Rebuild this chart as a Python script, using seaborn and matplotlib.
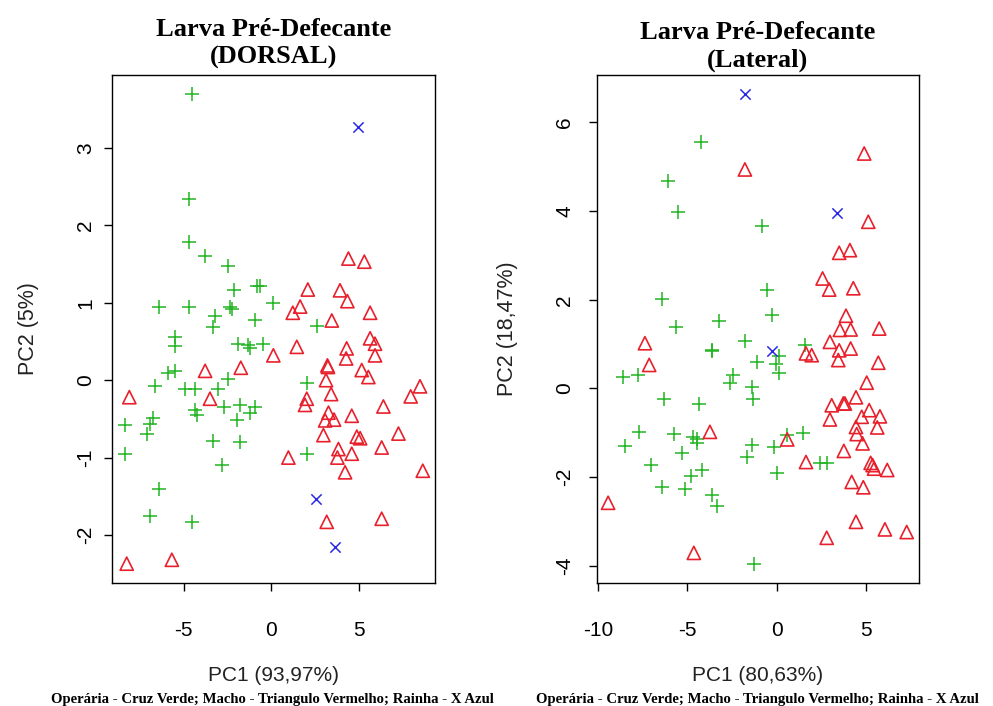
import matplotlib
matplotlib.use("Agg")
import matplotlib.pyplot as plt
import seaborn as sns
import pandas as pd

# ---- PCA scores, dorsal view ----
dorsal_operaria_pc1 = [-4.53, -4.67, -4.67, -3.77, -2.44, -2.10, -0.82, -0.63, 0.10, -6.42,
                       -4.67, -3.20, -2.34, -2.25, -0.91, -3.30, 2.63, -5.49, -5.49, -1.87,
                       -1.30, -1.20, -0.44, -5.87, -5.49, -6.63, -4.91, -4.34, -3.01, -2.44,
                       -4.34, -4.25, -2.69, -1.77, -0.91, -1.20, -1.96, -6.73, -6.91, -7.10,
                       -8.34, -8.34, -3.30, -1.77, -2.82, -6.38, -6.91, -4.53, 2.08, 2.08]
dorsal_operaria_pc2 = [3.69, 2.34, 1.79, 1.60, 1.48, 1.16, 1.21, 1.21, 1.00, 0.95,
                       0.95, 0.83, 0.94, 0.92, 0.78, 0.68, 0.70, 0.56, 0.44, 0.47,
                       0.45, 0.41, 0.47, 0.09, 0.12, -0.08, -0.11, -0.11, -0.11, 0.01,
                       -0.39, -0.45, -0.35, -0.32, -0.35, -0.42, -0.52, -0.49, -0.56, -0.69,
                       -0.58, -0.95, -0.79, -0.80, -1.10, -1.41, -1.75, -1.83, -0.04, -0.96]

dorsal_macho_pc1 = [4.42, 5.33, 2.10, 3.94, 4.36, 1.66, 1.24, 5.66, 3.47, 1.47,
                    0.13, 4.32, 4.29, 5.66, 5.94, 5.94, -3.77, -1.73, 3.22, 3.25,
                    5.18, 5.56, 3.14, -3.49, 3.43, 2.04, 1.94, 3.28, 3.09, 3.60,
                    4.61, 2.99, 4.90, 5.09, 8.51, 7.98, 6.42, 7.28, 3.85, 4.61,
                    3.79, 6.32, 0.99, 4.23, 8.67, 3.18, 6.32, -8.10, -8.25, -5.67]
dorsal_macho_pc2 = [1.57, 1.53, 1.17, 1.16, 1.02, 0.95, 0.87, 0.87, 0.77, 0.43,
                    0.32, 0.41, 0.28, 0.54, 0.47, 0.32, 0.12, 0.16, 0.19, 0.17,
                    0.13, 0.04, 0.00, -0.24, -0.18, -0.24, -0.32, -0.42, -0.52, -0.51,
                    -0.46, -0.71, -0.73, -0.75, -0.08, -0.21, -0.34, -0.69, -0.89, -0.95,
                    -1.00, -0.87, -1.00, -1.19, -1.17, -1.83, -1.79, -0.22, -2.37, -2.32]

dorsal_rainha_pc1 = [4.95, 2.55, 3.66]
dorsal_rainha_pc2 = [3.27, -1.54, -2.16]

# ---- PCA scores, lateral view ----
lateral_operaria_pc1 = [-4.26, -6.08, -5.52, -6.45, -5.65, -3.22, -0.85, -0.53, -0.29, -1.78,
                        -3.65, -3.62, 0.14, -0.04, 0.14, 1.58, -1.13, -2.44, -2.62, -1.41,
                        -1.32, -4.34, -8.60, -7.76, -6.30, -7.70, -5.76, -4.68, -4.49, -4.49,
                        -8.50, -5.33, -7.06, -4.21, -4.82, -6.45, -5.14, -3.65, -3.37, 0.55,
                        1.45, -1.41, -1.65, -0.16, 2.42, 2.80, 0.00, -1.28]
lateral_operaria_pc2 = [5.57, 4.69, 3.99, 2.02, 1.39, 1.53, 3.67, 2.22, 1.65, 1.07,
                        0.84, 0.86, 0.73, 0.55, 0.34, 0.98, 0.60, 0.30, 0.13, 0.04,
                        -0.23, -0.35, 0.26, 0.30, -0.24, -0.98, -1.03, -1.09, -1.13, -1.24,
                        -1.30, -1.45, -1.73, -1.83, -1.98, -2.22, -2.28, -2.41, -2.66, -1.05,
                        -1.00, -1.28, -1.54, -1.32, -1.68, -1.68, -1.91, -3.97]

lateral_macho_pc1 = [-1.78, 4.90, 5.13, 3.50, 4.10, 2.57, 2.94, 4.29, 3.88, 3.54,
                     4.14, 5.74, 2.98, 3.50, 4.14, 1.64, 1.96, 3.45, 5.69, 5.04,
                     3.08, 3.73, 3.82, 4.44, 5.18, 5.78, 4.76, 2.98, 4.44, 5.63,
                     4.48, 4.81, -3.74, 0.59, 3.76, 1.64, 5.26, 5.37, 5.45, 6.19,
                     4.20, 4.85, -7.38, -7.14, -9.44, -4.64, 4.44, 6.06, 7.28, 2.80]
lateral_macho_pc2 = [4.94, 5.30, 3.76, 3.06, 3.12, 2.48, 2.23, 2.26, 1.64, 1.32,
                     1.33, 1.35, 1.05, 0.86, 0.90, 0.79, 0.75, 0.64, 0.58, 0.13,
                     -0.38, -0.34, -0.34, -0.20, -0.49, -0.63, -0.64, -0.70, -0.87, -0.88,
                     -1.03, -1.24, -0.98, -1.15, -1.41, -1.66, -1.68, -1.73, -1.81, -1.84,
                     -2.11, -2.23, 1.02, 0.53, -2.58, -3.71, -3.01, -3.18, -3.24, -3.37]

lateral_rainha_pc1 = [-1.78, 3.36, -0.29]
lateral_rainha_pc2 = [6.64, 3.96, 0.84]

# ---- labels ----
titles = ["Larva Pré-Defecante\n(DORSAL)", "Larva Pré-Defecante\n(Lateral)"]
xlabels = ["PC1 (93,97%)", "PC1 (80,63%)"]
ylabels = ["PC2 (5%)", "PC2 (18,47%)"]
legend_note = "Operária - Cruz Verde; Macho - Triangulo Vermelho; Rainha - X Azul"
xticks = [[-5, 0, 5], [-10, -5, 0, 5]]
yticks = [[-2, -1, 0, 1, 2, 3], [-4, -2, 0, 2, 4, 6]]

sns.set_theme(style="ticks")
plt.rcParams["font.family"] = ["Liberation Sans", "DejaVu Sans"]
plt.rcParams["axes.unicode_minus"] = False

GREEN = "#22b422"
RED = "#e8202c"
BLUE = "#2a2ae0"
SERIF = ["Liberation Serif", "DejaVu Serif"]

fig = plt.figure(figsize=(9.93, 7.06), dpi=100)
ax_left = fig.add_axes([0.1128, 0.1742, 0.3253, 0.7195])
ax_right = fig.add_axes([0.6009, 0.1742, 0.3246, 0.7195])

panels = [
    (ax_left, dorsal_operaria_pc1, dorsal_operaria_pc2, dorsal_macho_pc1, dorsal_macho_pc2,
     dorsal_rainha_pc1, dorsal_rainha_pc2, (-9.09, 9.37), (-2.62, 3.94)),
    (ax_right, lateral_operaria_pc1, lateral_operaria_pc2, lateral_macho_pc1, lateral_macho_pc2,
     lateral_rainha_pc1, lateral_rainha_pc2, (-10.08, 7.97), (-4.39, 7.07)),
]

for i, (ax, gx, gy, mx, my, rx, ry, xlim, ylim) in enumerate(panels):
    ops = pd.DataFrame({"PC1": gx, "PC2": gy})
    mac = pd.DataFrame({"PC1": mx, "PC2": my})
    rai = pd.DataFrame({"PC1": rx, "PC2": ry})
    sns.scatterplot(data=ops, x="PC1", y="PC2", marker="+", s=110, color=GREEN,
                    linewidth=1.1, ax=ax, legend=False)
    sns.scatterplot(data=mac, x="PC1", y="PC2", marker="^", s=90, facecolor="none",
                    edgecolor=RED, linewidth=1.2, ax=ax, legend=False)
    sns.scatterplot(data=rai, x="PC1", y="PC2", marker="x", s=55, color=BLUE,
                    linewidth=1.1, ax=ax, legend=False)

    ax.set_xlim(*xlim)
    ax.set_ylim(*ylim)
    ax.set_xticks(xticks[i])
    ax.set_yticks(yticks[i])
    ax.tick_params(axis="both", direction="out", length=6, width=1, colors="black",
                   labelsize=15)
    ax.tick_params(axis="x", pad=21)
    ax.tick_params(axis="y", pad=6 if i == 0 else 10)
    for lab in ax.get_yticklabels():
        lab.set_rotation(90)
        lab.set_va("center")
    for sp in ax.spines.values():
        sp.set_visible(True)
        sp.set_color("black")
        sp.set_linewidth(1)

    ax.set_xlabel(xlabels[i], fontsize=15, color="#222222")
    ax.set_ylabel(ylabels[i], fontsize=15.5, color="#222222")
    ax.xaxis.set_label_coords(0.5, -0.164)
    ax.yaxis.set_label_coords(-0.226 if i == 0 else -0.244, 0.5)

    ax.text(0.5, 1.012 if i == 0 else 1.006, titles[i], transform=ax.transAxes,
            ha="center", va="bottom", fontsize=19, fontweight="bold",
            family=SERIF, color="black", linespacing=1.25)

fig.text(272 / 993, 1 - 699 / 706, legend_note, ha="center", va="center",
         fontsize=10.6, fontweight="bold", family=SERIF, color="black")
fig.text(757 / 993, 1 - 699 / 706, legend_note, ha="center", va="center",
         fontsize=10.6, fontweight="bold", family=SERIF, color="black")

fig.savefig("out.png", dpi=100, facecolor="white")
